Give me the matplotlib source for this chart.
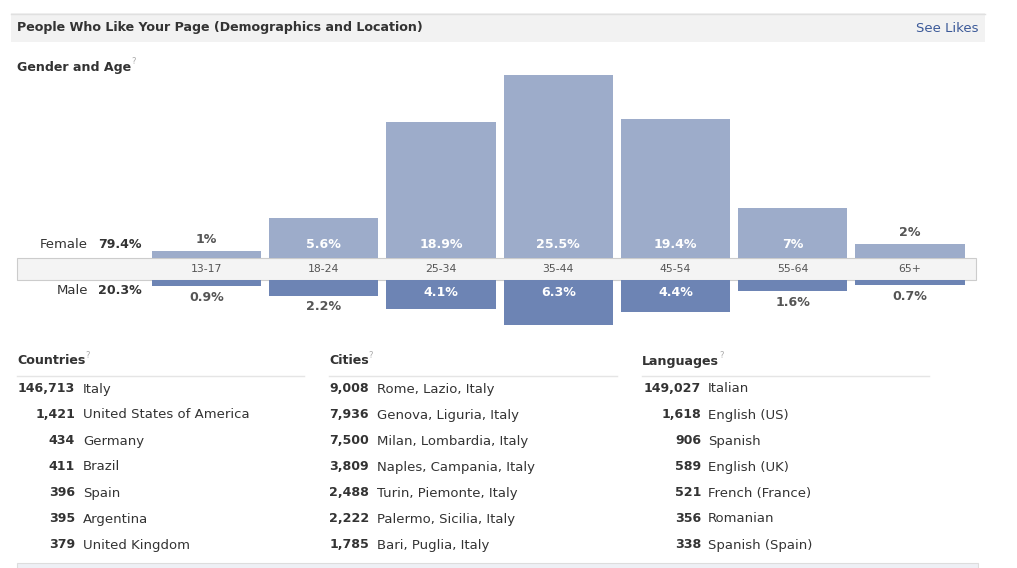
import matplotlib
matplotlib.use("Agg")
import matplotlib.pyplot as plt
from matplotlib.patches import Rectangle

plt.rcParams['font.family'] = ['DejaVu Sans']

# ---------------- data ----------------
age_groups = ["13-17", "18-24", "25-34", "35-44", "45-54", "55-64", "65+"]
female_pct = [1, 5.6, 18.9, 25.5, 19.4, 7, 2]
male_pct = [0.9, 2.2, 4.1, 6.3, 4.4, 1.6, 0.7]
female_total = "79.4%"
male_total = "20.3%"

country_counts = ["146,713", "1,421", "434", "411", "396", "395", "379"]
country_names = ["Italy", "United States of America", "Germany", "Brazil",
                 "Spain", "Argentina", "United Kingdom"]
city_counts = ["9,008", "7,936", "7,500", "3,809", "2,488", "2,222", "1,785"]
city_names = ["Rome, Lazio, Italy", "Genova, Liguria, Italy", "Milan, Lombardia, Italy",
              "Naples, Campania, Italy", "Turin, Piemonte, Italy",
              "Palermo, Sicilia, Italy", "Bari, Puglia, Italy"]
language_counts = ["149,027", "1,618", "906", "589", "521", "356", "338"]
language_names = ["Italian", "English (US)", "Spanish", "English (UK)",
                  "French (France)", "Romanian", "Spanish (Spain)"]

# ---------------- style ----------------
W, H = 1017, 568
FEMALE_C = "#9dacca"
MALE_C = "#6d84b4"
TXT = "#333333"
GREY_TXT = "#555555"
LINK = "#3b5998"
BOLD_FS = 9.05
REG_FS = 9.5

fig = plt.figure(figsize=(W / 100, H / 100), dpi=100)
fig.patch.set_facecolor("white")

bg = fig.add_axes([0, 0, 1, 1])
bg.set_xlim(0, W)
bg.set_ylim(H, 0)
bg.axis("off")

# header strip
bg.add_patch(Rectangle((11, 13), 974, 29, facecolor="#f2f2f2", edgecolor="none"))
bg.plot([11, 985], [13.5, 13.5], color="#e0e0e0", lw=1)
bg.text(17, 28, "People Who Like Your Page (Demographics and Location)",
        fontsize=BOLD_FS, fontweight="bold", color=TXT, va="center", ha="left")
bg.text(978, 28, "See Likes", fontsize=REG_FS, color=LINK, va="center", ha="right")

fig.canvas.draw()
renderer = fig.canvas.get_renderer()


def header_with_q(x, y, label):
    t = bg.text(x, y, label, fontsize=BOLD_FS, fontweight="bold", color=TXT,
                va="center", ha="left")
    bb = t.get_window_extent(renderer=renderer)
    bg.text(bb.x1, y - 5, "?", fontsize=6, color="#aaaaaa", va="center", ha="left")


header_with_q(17, 67, "Gender and Age")

# age band
bg.add_patch(Rectangle((17, 258), 959, 22, facecolor="#f4f4f4",
                       edgecolor="#cccccc", lw=0.8, zorder=1))

# gender labels
bg.text(88, 245, "Female", fontsize=REG_FS, color=TXT, ha="right", va="center")
bg.text(142, 245, female_total, fontsize=BOLD_FS, fontweight="bold", color=TXT,
        ha="right", va="center")
bg.text(88, 291, "Male", fontsize=REG_FS, color=TXT, ha="right", va="center")
bg.text(142, 291, male_total, fontsize=BOLD_FS, fontweight="bold", color=TXT,
        ha="right", va="center")

# ---------------- bar axes ----------------
n = len(age_groups)
pitch = 117.25
first_center = 206.5
px_per_pct = 7.18
left_px = first_center - pitch / 2
width_px = pitch * n
f_max, m_max = 30, 10
band_top, band_bot = 258, 280

ax_f = fig.add_axes([left_px / W, (H - band_top) / H, width_px / W, f_max * px_per_pct / H])
ax_m = fig.add_axes([left_px / W, (H - band_bot - m_max * px_per_pct) / H,
                     width_px / W, m_max * px_per_pct / H])
for ax in (ax_f, ax_m):
    ax.set_xlim(-0.5, n - 0.5)
    ax.axis("off")
    ax.patch.set_alpha(0)
ax_f.set_ylim(0, f_max)
ax_m.set_ylim(m_max, 0)

xs = list(range(n))
ax_f.bar(xs, female_pct, width=0.93, color=FEMALE_C, linewidth=0)
ax_m.bar(xs, male_pct, width=0.93, color=MALE_C, linewidth=0)

for i, v in enumerate(female_pct):
    lab = f"{v:g}%"
    if v > 4:
        ax_f.annotate(lab, (i, 0), xytext=(0, 13), textcoords="offset pixels",
                      ha="center", va="center", fontsize=BOLD_FS, fontweight="bold",
                      color="white")
    else:
        ax_f.annotate(lab, (i, v), xytext=(0, 11), textcoords="offset pixels",
                      ha="center", va="center", fontsize=BOLD_FS, fontweight="bold",
                      color=GREY_TXT)
    ax_f.annotate(age_groups[i], (i, 0), xytext=(0, -11), textcoords="offset pixels",
                  ha="center", va="center", fontsize=7.8, color=GREY_TXT,
                  annotation_clip=False)

for i, v in enumerate(male_pct):
    lab = f"{v:g}%"
    if v > 3:
        ax_m.annotate(lab, (i, 0), xytext=(0, -12), textcoords="offset pixels",
                      ha="center", va="center", fontsize=BOLD_FS, fontweight="bold",
                      color="white")
    else:
        ax_m.annotate(lab, (i, v), xytext=(0, -11), textcoords="offset pixels",
                      ha="center", va="center", fontsize=BOLD_FS, fontweight="bold",
                      color=GREY_TXT)

# ---------------- tables ----------------
row_y0, row_step = 389, 26
tables = [
    (17, 75, 83, 304, "Countries", country_counts, country_names),
    (329, 369, 377, 617, "Cities", city_counts, city_names),
    (642, 701, 708, 929, "Languages", language_counts, language_names),
]
for hx, num_r, name_l, line_r, title, counts, names in tables:
    header_with_q(hx, 361, title)
    bg.plot([hx, line_r], [375.5, 375.5], color="#e5e5e5", lw=1)
    for k, (c, nm) in enumerate(zip(counts, names)):
        y = row_y0 + k * row_step
        bg.text(num_r, y, c, fontsize=BOLD_FS, fontweight="bold", color=TXT,
                ha="right", va="center")
        bg.text(name_l, y, nm, fontsize=REG_FS, color=TXT, ha="left", va="center")

# bottom strip
bg.add_patch(Rectangle((17, 563), 961, 6, facecolor="#eef0f5", edgecolor="#dddddd", lw=0.8))

fig.savefig("out.png", dpi=100, facecolor="white")
